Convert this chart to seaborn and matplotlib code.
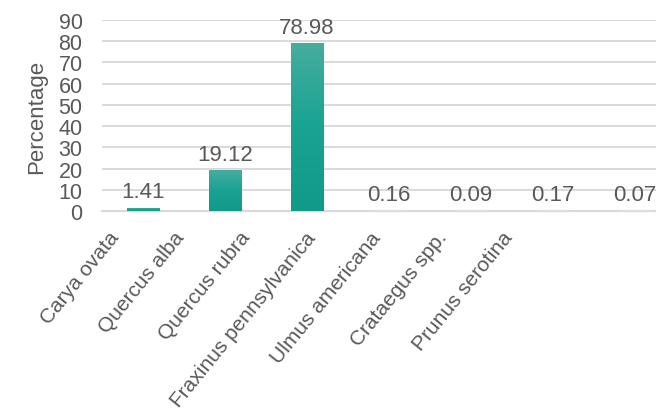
import numpy as np
import pandas as pd
import matplotlib
matplotlib.use("Agg")
import matplotlib.pyplot as plt
import seaborn as sns
from matplotlib.colors import LinearSegmentedColormap

species = ["Carya ovata", "Quercus alba", "Quercus rubra", "Fraxinus pennsylvanica",
           "Ulmus americana", "Crataegus spp.", "Prunus serotina"]
percentage = [1.41, 19.12, 78.98, 0.16, 0.09, 0.17, 0.07]
value_labels = ["1.41", "19.12", "78.98", "0.16", "0.09", "0.17", "0.07"]
y_ticks = [0, 10, 20, 30, 40, 50, 60, 70, 80, 90]

TEXT = "#595959"
GRID = "#d9d9d9"

df = pd.DataFrame({"species": species, "percentage": percentage})

sns.set_theme(style="white")
plt.rcParams["font.family"] = ["Liberation Sans", "DejaVu Sans"]

fig = plt.figure(figsize=(6.56, 4.14), dpi=100)
# plot area runs past the right edge, like the cropped original
ax = fig.add_axes([102 / 656, 202 / 414, 574 / 656, 191 / 414])

sns.barplot(data=df, x="species", y="percentage", color="#14a08e",
            width=0.4, ax=ax, zorder=3)

# vertical teal gradient inside each bar
cmap = LinearSegmentedColormap.from_list("teal", ["#0f9a89", "#18a392", "#46ad9f"])
grad = np.linspace(0, 1, 256).reshape(-1, 1)
for bar in ax.patches:
    x0, y0 = bar.get_x(), bar.get_y()
    w, h = bar.get_width(), bar.get_height()
    im = ax.imshow(grad, cmap=cmap, aspect="auto", origin="lower",
                   extent=[x0, x0 + w, y0, y0 + h], zorder=4)
    im.set_clip_path(bar)

for i, (v, lab) in enumerate(zip(percentage, value_labels)):
    ax.annotate(lab, (i, v), xytext=(0, 4), textcoords="offset points",
                ha="center", va="bottom", fontsize=16, color=TEXT,
                zorder=5, annotation_clip=False)

ax.set_xlim(-0.5, 6.5)
ax.set_ylim(0, 90)
ax.set_yticks(y_ticks)
ax.yaxis.grid(True, color=GRID, linewidth=1.4, zorder=0)
ax.set_axisbelow(True)
for s in ["top", "right", "left"]:
    ax.spines[s].set_visible(False)
ax.spines["bottom"].set_color(GRID)
ax.spines["bottom"].set_linewidth(1.6)

# category labels sit on a tighter spacing than the bars in the original
label_pos = np.arange(len(species)) * 0.8 - 0.25
ax.set_xticks(label_pos)
ax.set_xticklabels(species, rotation=51, ha="right", va="top",
                   fontsize=15, color=TEXT)
ax.tick_params(axis="x", length=0, pad=12)
ax.tick_params(axis="y", length=0, pad=14, labelsize=15.5, labelcolor=TEXT)

ax.set_xlabel("")
ax.set_ylabel("Percentage", fontsize=16, color=TEXT, labelpad=8)

fig.savefig("out.png", dpi=100)
